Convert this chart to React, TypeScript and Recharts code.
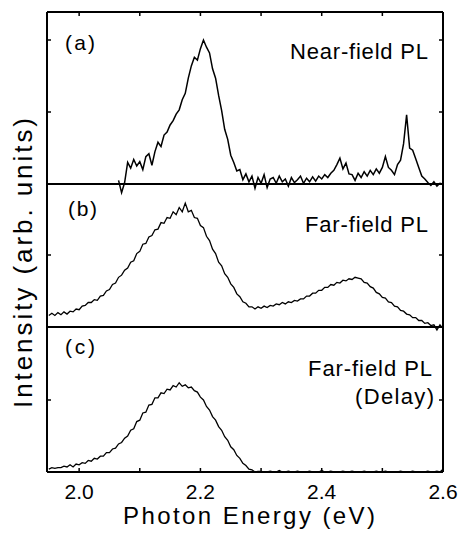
import { LineChart, Line, XAxis, YAxis, ReferenceLine } from 'recharts'

// photon energy grid (eV)
const energies = [
  1.95, 1.955, 1.96, 1.965, 1.97, 1.975, 1.98, 1.985, 1.99, 1.995,
  2.0, 2.005, 2.01, 2.015, 2.02, 2.025, 2.03, 2.035, 2.04, 2.045,
  2.05, 2.055, 2.06, 2.065, 2.07, 2.075, 2.08, 2.085, 2.09, 2.095,
  2.1, 2.105, 2.11, 2.115, 2.12, 2.125, 2.13, 2.135, 2.14, 2.145,
  2.15, 2.155, 2.16, 2.165, 2.17, 2.175, 2.18, 2.185, 2.19, 2.195,
  2.2, 2.205, 2.21, 2.215, 2.22, 2.225, 2.23, 2.235, 2.24, 2.245,
  2.25, 2.255, 2.26, 2.265, 2.27, 2.275, 2.28, 2.285, 2.29, 2.295,
  2.3, 2.305, 2.31, 2.315, 2.32, 2.325, 2.33, 2.335, 2.34, 2.345,
  2.35, 2.355, 2.36, 2.365, 2.37, 2.375, 2.38, 2.385, 2.39, 2.395,
  2.4, 2.405, 2.41, 2.415, 2.42, 2.425, 2.43, 2.435, 2.44, 2.445,
  2.45, 2.455, 2.46, 2.465, 2.47, 2.475, 2.48, 2.485, 2.49, 2.495,
  2.5, 2.505, 2.51, 2.515, 2.52, 2.525, 2.53, 2.535, 2.54, 2.545,
  2.55, 2.555, 2.56, 2.565, 2.57, 2.575, 2.58, 2.585, 2.59, 2.595,
  2.6,
]

// (a) near-field PL
const nearField = [
  null, null, null, null, null, null, null, null, null, null,
  null, null, null, null, null, null, null, null, null, null,
  null, null, null, 0.05, -0.12, 0.02, 0.3, 0.22, 0.34, 0.25,
  0.31, 0.2, 0.38, 0.42, 0.26, 0.45, 0.58, 0.52, 0.68, 0.72,
  0.82, 0.88, 0.97, 1.03, 1.17, 1.26, 1.47, 1.64, 1.76, 1.72,
  1.88, 2.0, 1.9, 1.82, 1.6, 1.47, 1.23, 1.02, 0.76, 0.62,
  0.4, 0.3, 0.18, 0.2, 0.06, 0.14, 0.03, 0.11, -0.06, 0.09,
  0.01, 0.13, -0.05, 0.07, 0.09, 0.01, 0.11, 0.03, 0.07, -0.03,
  0.09, 0.02, 0.06, 0.11, 0.01, 0.08, 0.03, 0.1, 0.04, 0.11,
  0.07, 0.13, 0.09, 0.15, 0.19, 0.27, 0.36, 0.21, 0.29, 0.14,
  0.13, 0.05, 0.15, 0.09, 0.17, 0.11, 0.19, 0.13, 0.21, 0.15,
  0.23, 0.38, 0.23, 0.19, 0.13, 0.27, 0.33, 0.56, 0.96, 0.5,
  0.47, 0.35, 0.23, 0.11, 0.07, 0.02, -0.02, 0.03, -0.03, 0.01,
  0.0,
]

// (b) far-field PL
const farField = [
  0.16, 0.19, 0.16, 0.2, 0.17, 0.21, 0.18, 0.22, 0.21, 0.25,
  0.24, 0.29, 0.3, 0.34, 0.34, 0.38, 0.37, 0.43, 0.44, 0.5,
  0.52, 0.59, 0.61, 0.69, 0.72, 0.79, 0.82, 0.9, 0.92, 1.02,
  1.05, 1.15, 1.16, 1.25, 1.27, 1.35, 1.36, 1.45, 1.44, 1.52,
  1.51, 1.6, 1.56, 1.66, 1.6, 1.72, 1.6, 1.62, 1.52, 1.51,
  1.41, 1.38, 1.26, 1.2, 1.08, 1.02, 0.9, 0.85, 0.74, 0.69,
  0.6, 0.55, 0.46, 0.42, 0.35, 0.33, 0.28, 0.28, 0.25, 0.28,
  0.26, 0.29, 0.27, 0.3, 0.29, 0.32, 0.31, 0.34, 0.32, 0.35,
  0.34, 0.37, 0.36, 0.39, 0.39, 0.43, 0.43, 0.47, 0.47, 0.51,
  0.51, 0.55, 0.55, 0.59, 0.58, 0.62, 0.61, 0.65, 0.64, 0.67,
  0.66, 0.69, 0.68, 0.67, 0.62, 0.61, 0.56, 0.54, 0.48, 0.46,
  0.41, 0.4, 0.35, 0.34, 0.29, 0.28, 0.23, 0.22, 0.18, 0.17,
  0.13, 0.13, 0.09, 0.09, 0.05, 0.06, 0.02, 0.03, -0.04, 0.03,
  -0.02,
]

// (c) far-field PL, delayed
const farFieldDelay = [
  0.04, 0.06, 0.05, 0.06, 0.06, 0.08, 0.07, 0.1, 0.07, 0.11,
  0.1, 0.13, 0.12, 0.16, 0.15, 0.19, 0.18, 0.22, 0.22, 0.27,
  0.27, 0.32, 0.33, 0.39, 0.41, 0.47, 0.5, 0.58, 0.6, 0.7,
  0.72, 0.82, 0.83, 0.93, 0.94, 1.03, 1.03, 1.1, 1.09, 1.15,
  1.14, 1.2, 1.18, 1.24, 1.19, 1.21, 1.17, 1.18, 1.13, 1.11,
  1.04, 1.0, 0.91, 0.86, 0.77, 0.72, 0.63, 0.58, 0.49, 0.44,
  0.35, 0.31, 0.23, 0.19, 0.12, 0.09, 0.04, 0.03, 0.0, 0.01,
  0.01, 0.0, 0.0, 0.01, 0.0, 0.0, 0.02, 0.0, 0.0, 0.01,
  0.0, 0.0, 0.01, 0.0, 0.0, 0.0, 0.01, 0.0, 0.0, 0.0,
  0.02, 0.0, 0.0, 0.01, 0.0, 0.0, 0.0, 0.01, 0.0, 0.0,
  0.01, 0.0, 0.0, 0.0, 0.01, 0.0, 0.0, 0.0, 0.01, 0.0,
  0.0, 0.01, 0.0, 0.0, 0.0, 0.0, 0.01, 0.0, 0.0, 0.0,
  0.01, 0.0, 0.0, 0.0, 0.0, 0.01, 0.0, 0.0, 0.01, 0.0,
  0.04,
]

const xTicks = [2.0, 2.1, 2.2, 2.3, 2.4, 2.5, 2.6]
const xTickLabels = ['2.0', '', '2.2', '', '2.4', '', '2.6']
const xDomain = [1.947, 2.6]

const FONT = '"Liberation Sans", Arial, Helvetica, sans-serif'
const INK = '#000'
const W = 463
const H = 533

const rows = (vals: (number | null)[]) => energies.map((e, i) => ({ e, v: vals[i] }))

const axisLine = { stroke: INK, strokeWidth: 2 }
const tickLine = { stroke: INK, strokeWidth: 1.5 }
// tick={false} would drop the tick marks too, so draw an empty label instead
const noLabel = () => <g />

// left + right frame with inward ticks; width 1 so recharts still draws them
function sideAxes(domain: number[], ticks: number[]) {
  return [
    <YAxis key="l" yAxisId="l" type="number" domain={domain} allowDataOverflow ticks={ticks} interval={0}
      width={1} tick={noLabel} tickSize={-4} stroke={INK} axisLine={axisLine} tickLine={tickLine} />,
    <YAxis key="r" yAxisId="r" orientation="right" type="number" domain={domain} allowDataOverflow
      ticks={ticks} interval={0} width={1} tick={noLabel} tickSize={-4} stroke={INK}
      axisLine={axisLine} tickLine={tickLine} />,
  ]
}

const layer: React.CSSProperties = { position: 'absolute', left: 0, top: 0 }

export default function App() {
  return (
    <div style={{ position: 'absolute', left: 0, top: 0, width: W, height: H, background: '#fff', fontFamily: FONT }}>
      {/* (a) */}
      <div style={layer}>
        <LineChart width={W} height={H} data={rows(nearField)} margin={{ top: 11, right: 19, bottom: 337, left: 46 }}>
          <XAxis dataKey="e" type="number" orientation="top" domain={xDomain} allowDataOverflow ticks={xTicks}
            interval={0} height={1} tick={noLabel} tickSize={-4} stroke={INK} axisLine={axisLine}
            tickLine={tickLine} />
          {sideAxes([-0.1667, 2.3889], [1, 2])}
          <ReferenceLine yAxisId="l" y={0} stroke={INK} strokeWidth={2} />
          <Line yAxisId="l" dataKey="v" type="linear" stroke={INK} strokeWidth={1.5} dot={false}
            isAnimationActive={false} />
        </LineChart>
      </div>
      {/* (b) */}
      <div style={layer}>
        <LineChart width={W} height={H} data={rows(farField)} margin={{ top: 184, right: 19, bottom: 198, left: 46 }}>
          <XAxis dataKey="e" type="number" domain={xDomain} allowDataOverflow hide />
          {sideAxes([-0.1111, 1.9861], [1])}
          <ReferenceLine yAxisId="l" y={0} stroke={INK} strokeWidth={2} />
          <Line yAxisId="l" dataKey="v" type="linear" stroke={INK} strokeWidth={1.3} dot={false}
            isAnimationActive={false} />
        </LineChart>
      </div>
      {/* (c) */}
      <div style={layer}>
        <LineChart width={W} height={H} data={rows(farFieldDelay)} margin={{ top: 327, right: 19, bottom: 31, left: 46 }}>
          <XAxis dataKey="e" type="number" domain={xDomain} allowDataOverflow ticks={xTicks} interval={0}
            height={30} tickSize={-4} tickMargin={16} stroke={INK} axisLine={axisLine} tickLine={tickLine}
            tickFormatter={(v: number) => xTickLabels[xTicks.indexOf(v)] ?? ''}
            tick={{ fontSize: 21, fill: INK, fontFamily: FONT }} />
          {sideAxes([0, 2.0139], [1])}
          <Line yAxisId="l" dataKey="v" type="linear" stroke={INK} strokeWidth={1.3} dot={false}
            isAnimationActive={false} />
        </LineChart>
      </div>
      {/* labels */}
      <svg width={W} height={H} style={{ ...layer, pointerEvents: 'none' }} fontFamily={FONT} fill={INK}>
        <text x={65} y={50} fontSize={21} textLength={30} lengthAdjust="spacing">(a)</text>
        <text x={290} y={59} fontSize={22} textLength={138} lengthAdjust="spacing">Near-field PL</text>
        <text x={68} y={216} fontSize={21} textLength={29} lengthAdjust="spacing">(b)</text>
        <text x={305} y={232} fontSize={22} textLength={123} lengthAdjust="spacing">Far-field PL</text>
        <text x={65} y={354} fontSize={21} textLength={30} lengthAdjust="spacing">(c)</text>
        <text x={308} y={376} fontSize={22} textLength={124} lengthAdjust="spacing">Far-field PL</text>
        <text x={355} y={404} fontSize={22} textLength={79} lengthAdjust="spacing">(Delay)</text>
        <text x={123} y={524} fontSize={24} textLength={252} lengthAdjust="spacing">Photon Energy (eV)</text>
        <text transform="translate(32,263) rotate(-90)" x={0} y={0} fontSize={26} textAnchor="middle"
          textLength={290} lengthAdjust="spacing">Intensity (arb. units)</text>
      </svg>
    </div>
  )
}
